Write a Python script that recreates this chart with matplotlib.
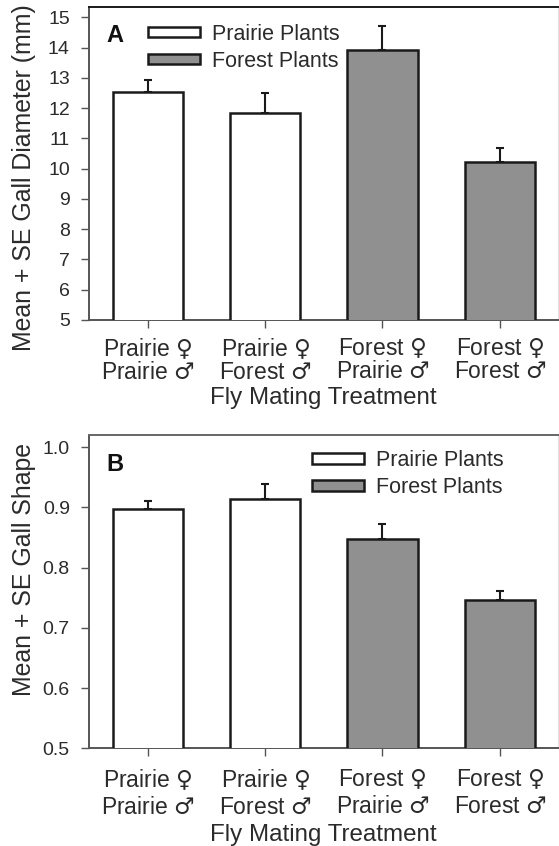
import matplotlib
matplotlib.use('Agg')
import matplotlib.pyplot as plt
import numpy as np
from matplotlib.patches import Patch

# --- Data ---
FEM = '$\\mathrm{\u2640}$'
MAL = '$\\mathrm{\u2642}$'
treatments = ['Prairie ' + FEM + '\nPrairie ' + MAL, 'Prairie ' + FEM + '\nForest ' + MAL,
              'Forest ' + FEM + '\nPrairie ' + MAL, 'Forest ' + FEM + '\nForest ' + MAL]
plant_type = ['Prairie', 'Prairie', 'Forest', 'Forest']

diam_mean = [12.54, 11.85, 13.92, 10.23]
diam_se = [0.40, 0.66, 0.80, 0.46]

shape_mean = [0.897, 0.914, 0.847, 0.746]
shape_se = [0.013, 0.025, 0.026, 0.015]

FILL = {'Prairie': 'white', 'Forest': '#909090'}
TXT = '#2b2b2b'

plt.rcParams['font.family'] = ['Liberation Sans', 'DejaVu Sans']
plt.rcParams['mathtext.fontset'] = 'custom'
plt.rcParams['mathtext.rm'] = 'DejaVu Sans'
plt.rcParams['text.color'] = TXT
plt.rcParams['axes.labelcolor'] = TXT
plt.rcParams['xtick.color'] = '#555555'
plt.rcParams['ytick.color'] = '#555555'
plt.rcParams['xtick.labelcolor'] = TXT
plt.rcParams['ytick.labelcolor'] = TXT

fig = plt.figure(figsize=(5.59, 8.46), dpi=100)
W, H = 559, 846


def px_axes(left, top, right, bottom):
    return fig.add_axes([left / W, 1 - bottom / H, (right - left) / W, (bottom - top) / H])


axA = px_axes(89.3, 7.3, 558.3, 320)
axB = px_axes(89.3, 435, 558.3, 748.3)

x = np.arange(len(treatments))
colors = [FILL[p] for p in plant_type]


def draw(ax, means, ses, ylim, yticks, letter, leg_xy, letter_y, tick_pad, lspace, xlab_y, top_col):
    ax.bar(x, means, width=0.6, color=colors, edgecolor='#1a1a1a', linewidth=1.8, zorder=3)
    ax.errorbar(x, means, yerr=[np.zeros(len(ses)), ses], fmt='none', ecolor='#1a1a1a',
                elinewidth=1.5, capsize=2.6, capthick=1.5, zorder=2)
    ax.set_xlim(-0.5, 3.5)
    ax.set_ylim(*ylim)
    ax.set_yticks(yticks)
    ax.set_xticks(x)
    ax.set_xticklabels(treatments, fontsize=16.5, linespacing=lspace)
    ax.tick_params(axis='x', length=6, width=1, pad=tick_pad)
    ax.tick_params(axis='y', length=6, width=1, pad=8, labelsize=14)
    ax.spines['left'].set_color('#555555')
    ax.spines['bottom'].set_color('#555555')
    ax.spines['top'].set_color(top_col)
    for s in ['left', 'bottom', 'top']:
        ax.spines[s].set_linewidth(1.4)
    ax.spines['right'].set_color('#e0e0e0')
    ax.set_xlabel('Fly Mating Treatment', fontsize=17.4)
    ax.xaxis.set_label_coords(0.5, xlab_y)
    ax.text(0.037, letter_y, letter, transform=ax.transAxes, fontsize=17,
            fontweight='bold', va='center', ha='left', color='#111111')
    handles = [Patch(facecolor='white', edgecolor='#1a1a1a', linewidth=1.8, label='Prairie Plants'),
               Patch(facecolor='#909090', edgecolor='#1a1a1a', linewidth=1.8, label='Forest Plants')]
    ax.legend(handles=handles, loc='upper left', bbox_to_anchor=leg_xy,
              frameon=False, fontsize=15.5, handlelength=2.4, handleheight=0.37,
              handletextpad=0.54, labelspacing=0.28, borderpad=0, borderaxespad=0)


draw(axA, diam_mean, diam_se, (5, 15.33), range(5, 16), 'A', (0.1258, 0.947), 0.91,
     6, 1.0, -0.215, '#1a1a1a')
axA.set_ylabel('Mean + SE Gall Diameter (mm)', fontsize=17.9)
axA.yaxis.set_label_coords(-0.113, 0.456)

draw(axB, shape_mean, shape_se, (0.5, 1.0204), [0.5, 0.6, 0.7, 0.8, 0.9, 1.0], 'B',
     (0.4755, 0.951), 0.905, 8, 1.17, -0.242, '#666666')
axB.set_yticklabels(['0.5', '0.6', '0.7', '0.8', '0.9', '1.0'])
axB.set_ylabel('Mean + SE Gall Shape', fontsize=17.9)
axB.yaxis.set_label_coords(-0.113, 0.572)

fig.savefig('out.png', dpi=100)
